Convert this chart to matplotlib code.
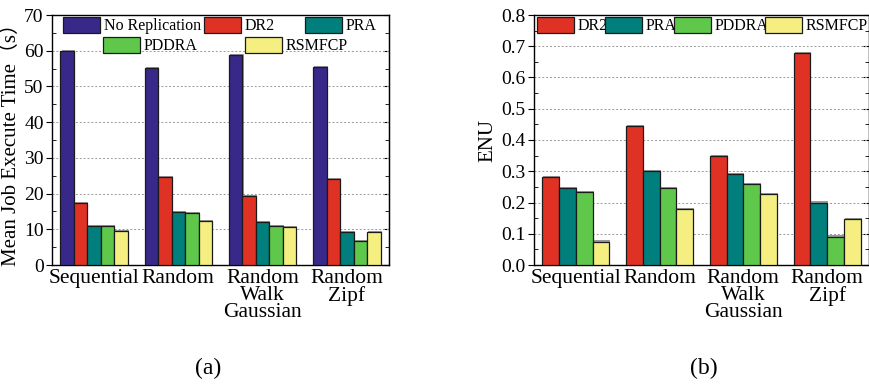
import matplotlib
matplotlib.use("Agg")
import matplotlib.pyplot as plt
import matplotlib.patheffects as pe
from matplotlib.legend import Legend
from matplotlib.ticker import MultipleLocator, FormatStrFormatter
import numpy as np

plt.rcParams['font.family'] = ['Liberation Serif', 'Noto Sans CJK SC', 'DejaVu Sans']

# data
categories = ['Sequential', 'Random', 'Random\nWalk\nGaussian', 'Random\nZipf']

time_series = ['No Replication', 'DR2', 'PRA', 'PDDRA', 'RSMFCP']
time_values = [
    [60.0, 55.1, 58.8, 55.5],   # No Replication
    [17.3, 24.6, 19.2, 24.1],   # DR2
    [11.0, 14.9, 12.0, 9.2],    # PRA
    [11.0, 14.5, 11.0, 6.8],    # PDDRA
    [9.5, 12.4, 10.6, 9.2],     # RSMFCP
]

enu_series = ['DR2', 'PRA', 'PDDRA', 'RSMFCP']
enu_values = [
    [0.281, 0.446, 0.348, 0.677],  # DR2
    [0.245, 0.302, 0.292, 0.200],  # PRA
    [0.233, 0.245, 0.258, 0.091],  # PDDRA
    [0.075, 0.180, 0.226, 0.148],  # RSMFCP
]

colors = {
    'No Replication': '#38288a',
    'DR2': '#e03224',
    'PRA': '#007f7c',
    'PDDRA': '#5fc84b',
    'RSMFCP': '#f4ef80',
}

shadow = [pe.SimplePatchShadow(offset=(0.8, 0.8), shadow_rgbFace='#555555', alpha=0.6), pe.Normal()]

fig = plt.figure(figsize=(8.7, 3.85), dpi=100)
ax1 = fig.add_axes([52 / 870, 1 - 265 / 385, 337 / 870, 250 / 385])
ax2 = fig.add_axes([534 / 870, 1 - 265 / 385, 335 / 870, 250 / 385])


def draw(ax, series, values, width, major, minor):
    x = np.arange(1, len(categories) + 1)
    n = len(series)
    handles = {}
    for i, (name, vals) in enumerate(zip(series, values)):
        bars = ax.bar(x + (i - (n - 1) / 2) * width, vals, width,
                      color=colors[name], edgecolor='#1a1a1a', linewidth=0.9,
                      zorder=3, label=name)
        for b in bars:
            b.set_path_effects(shadow)
        handles[name] = bars
    ax.set_xlim(0.5, len(categories) + 0.5)
    ax.set_xticks(x)
    ax.set_xticklabels(categories, fontsize=15.5, linespacing=0.85)
    ax.tick_params(axis='x', length=0, pad=3)
    ax.yaxis.set_major_locator(MultipleLocator(major))
    ax.yaxis.set_minor_locator(MultipleLocator(minor))
    ax.tick_params(axis='y', which='major', direction='out', length=4, labelsize=14, pad=2)
    ax.tick_params(axis='y', which='minor', direction='in', length=3)
    for s in ax.spines.values():
        s.set_linewidth(1.0)
    ax.yaxis.grid(True, linestyle=(0, (2, 2)), color='#999999', linewidth=0.7, zorder=0)
    # right side ticks pointing in
    sec = ax.secondary_yaxis('right')
    sec.yaxis.set_major_locator(MultipleLocator(major))
    sec.yaxis.set_minor_locator(MultipleLocator(minor))
    sec.tick_params(which='both', direction='in', labelright=False, length=4)
    sec.tick_params(which='minor', length=3)
    return handles


h1 = draw(ax1, time_series, time_values, 0.16, 10, 5)
ax1.set_ylim(0, 70)
ax1.set_ylabel('Mean Job Execute Time（s）', fontsize=15, labelpad=2)

h2 = draw(ax2, enu_series, enu_values, 0.2, 0.1, 0.05)
ax2.set_ylim(0, 0.8)
ax2.yaxis.set_major_formatter(FormatStrFormatter('%.1f'))
ax2.set_ylabel('ENU', fontsize=15, labelpad=3)


def legend_item(ax, handle, name, xa, ya):
    leg = Legend(ax, [handle], [name], loc='center left', bbox_to_anchor=(xa, ya),
                 frameon=False, fontsize=11.5, handlelength=2.3, handleheight=1.1,
                 handletextpad=0.25, borderpad=0, borderaxespad=0)
    for p in leg.get_patches():
        p.set_path_effects([])
    ax.add_artist(leg)


left_legend = [('No Replication', 0.033, 0.957), ('DR2', 0.451, 0.957), ('PRA', 0.751, 0.957),
               ('PDDRA', 0.151, 0.877), ('RSMFCP', 0.573, 0.877)]
for name, xa, ya in left_legend:
    legend_item(ax1, h1[name], name, xa, ya)

right_legend = [('DR2', 0.009, 0.957), ('PRA', 0.212, 0.957), ('PDDRA', 0.418, 0.957), ('RSMFCP', 0.690, 0.957)]
for name, xa, ya in right_legend:
    legend_item(ax2, h2[name], name, xa, ya)

fig.text(208 / 870, 1 - 368 / 385, '(a)', ha='center', va='center', fontsize=17)
fig.text(704 / 870, 1 - 368 / 385, '(b)', ha='center', va='center', fontsize=17)

fig.savefig('out.png', dpi=100)
